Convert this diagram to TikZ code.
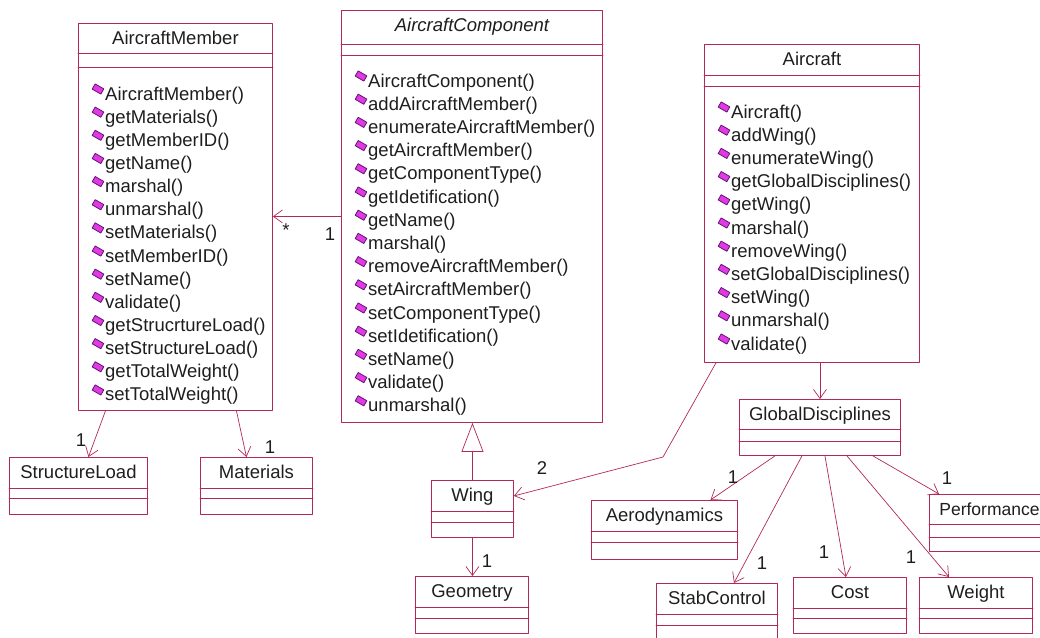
\documentclass[tikz,border=0pt]{standalone}
\usepackage{fontspec}
\setmainfont{Liberation Sans}
\usetikzlibrary{arrows.meta,calc}
\definecolor{umlline}{RGB}{178,40,90}
\definecolor{opicon}{RGB}{226,58,226}
\definecolor{opedge}{RGB}{96,20,120}
\definecolor{umltext}{RGB}{30,30,30}
\tikzset{
  cls/.style={draw=umlline,line width=0.9pt,inner sep=0pt,anchor=north west},
  ttl/.style={text=umltext,inner sep=0pt,text height=12pt,text depth=0pt,font=\fontsize{18.5}{20}\selectfont},
  opname/.style={text=umltext,inner sep=0pt,anchor=base west,font=\fontsize{18.5}{20}\selectfont},
  icon/.style={fill=opicon,draw=opedge,line width=0.8pt,minimum width=10pt,minimum height=6pt,inner sep=0pt,rotate=-30},
  mult/.style={ttl},
  assoc/.style={draw=umlline,line width=0.7pt,-{Straight Barb[length=9pt,width=13pt]}},
  gen/.style={draw=umlline,line width=0.7pt,-{Triangle[length=29pt,width=22pt,fill=white]}}
}
% class box: name, x, y, width, height, title, 1st line, 2nd line
\newcommand{\umlclass}[8]{%
  \node[cls,minimum width=#4pt,minimum height=#5pt] (#1) at (#2,#3) {};
  \node[ttl] (#1-name) at ($(#1.north)+(0,15)$) {#6};
  \draw[umlline,line width=0.9pt] ($(#1.north west)+(0,#7)$) -- ($(#1.north east)+(0,#7)$)
    ($(#1.north west)+(0,#8)$) -- ($(#1.north east)+(0,#8)$);
}
\begin{document}
\begin{tikzpicture}[line cap=round,line join=round,x=1pt,y=-1pt]
  \useasboundingbox (0,0) rectangle (1040,637);
  \clip (0,0) rectangle (1040,637);

  % classes
  \umlclass{member}{78}{23}{194}{387}{AircraftMember}{30}{44}
  \umlclass{comp}{341}{10}{261}{412}{\itshape AircraftComponent}{34}{45}
  \umlclass{aircraft}{704}{44}{215}{318}{Aircraft}{31}{42}
  \umlclass{sload}{9}{457}{138}{57}{StructureLoad}{31}{41}
  \umlclass{mat}{200}{457}{112}{57}{Materials}{31}{41}
  \umlclass{wing}{431}{480}{82}{57}{Wing}{31}{42}
  \umlclass{geom}{415}{576}{113}{57}{Geometry}{31}{42}
  \umlclass{gd}{739}{399}{161}{56}{GlobalDisciplines}{30}{42}
  \umlclass{aero}{591}{500}{146}{59}{Aerodynamics}{31}{42}
  \umlclass{perf}{929}{494}{120}{57}{\fontsize{17.5}{20}\selectfont Performance}{30}{43}
  \umlclass{stab}{656}{583}{121}{60}{StabControl}{31}{42}
  \umlclass{cost}{793}{577}{113}{56}{Cost}{31}{41}
  \umlclass{weight}{919}{577}{113}{56}{Weight}{31}{41}

  % operations
  \foreach \op [count=\i] in {AircraftMember(),getMaterials(),getMemberID(),getName(),marshal(),unmarshal(),setMaterials(),setMemberID(),setName(),validate(),getStrucrtureLoad(),setStructureLoad(),getTotalWeight(),setTotalWeight()}{
    \node[icon] (mi\i) at (98,{89+23.15*(\i-1)}) {};
    \node[opname] (mo\i) at (105,{100+23.15*(\i-1)}) {\op};
  }
  \foreach \op [count=\i] in {AircraftComponent(),addAircraftMember(),enumerateAircraftMember(),getAircraftMember(),getComponentType(),getIdetification(),getName(),marshal(),removeAircraftMember(),setAircraftMember(),setComponentType(),setIdetification(),setName(),validate(),unmarshal()}{
    \node[icon] (ci\i) at (361,{76+23.2*(\i-1)}) {};
    \node[opname] (co\i) at (368,{87+23.2*(\i-1)}) {\op};
  }
  \foreach \op [count=\i] in {Aircraft(),addWing(),enumerateWing(),getGlobalDisciplines(),getWing(),marshal(),removeWing(),setGlobalDisciplines(),setWing(),unmarshal(),validate()}{
    \node[icon] (ai\i) at (724,{107+23.2*(\i-1)}) {};
    \node[opname] (ao\i) at (731,{118+23.2*(\i-1)}) {\op};
  }

  % connectors
  \coordinate (bend) at (663,457);
  \draw[assoc] (comp.west) -- (comp.west -| member.east);
  \draw[assoc] ([xshift=-70pt]member.south) -- ([xshift=10pt]sload.north);
  \draw[assoc] ([xshift=61pt]member.south) -- ([xshift=-10pt]mat.north);
  \draw[gen] (wing.north) -- (wing.north |- comp.south);
  \draw[assoc] ([xshift=-96pt]aircraft.south) -- (bend) -- ([yshift=13pt]wing.east);
  \draw[assoc] (wing.south) -- (wing.south |- geom.north);
  \draw[assoc] ([xshift=8pt]aircraft.south) -- (gd.north);
  \draw[assoc] ([xshift=-45pt]gd.south) -- ([xshift=46pt]aero.north);
  \draw[assoc] ([xshift=-18pt]gd.south) -- ([xshift=17pt]stab.north);
  \draw[assoc] ([xshift=5pt]gd.south) -- ([xshift=-4pt]cost.north);
  \draw[assoc] ([xshift=27pt]gd.south) -- ([xshift=-27pt]weight.north);
  \draw[assoc] ([xshift=53pt]gd.south) -- ([xshift=10pt]perf.north west);

  % multiplicities
  \node[mult] (m-star) at (286,230) {*};
  \node[mult] (m-comp) at (330,234) {1};
  \node[mult] (m-sload) at (81,440) {1};
  \node[mult] (m-mat) at (270,447) {1};
  \node[mult] (m-wing) at (542,468) {2};
  \node[mult] (m-geom) at (487,561) {1};
  \node[mult] (m-aero) at (733,477) {1};
  \node[mult] (m-stab) at (762,563) {1};
  \node[mult] (m-cost) at (824,552) {1};
  \node[mult] (m-weight) at (911,557) {1};
  \node[mult] (m-perf) at (947,478) {1};
\end{tikzpicture}
\end{document}
